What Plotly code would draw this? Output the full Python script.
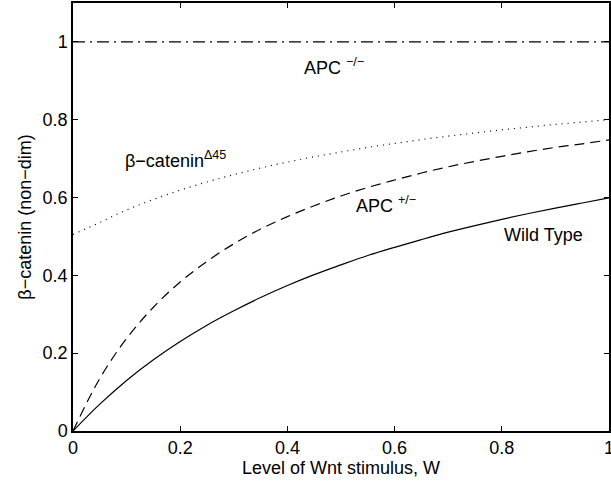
import plotly.graph_objects as go

W = [0, 0.05, 0.1, 0.15, 0.2, 0.25, 0.3, 0.35, 0.4, 0.45, 0.5,
     0.55, 0.6, 0.65, 0.7, 0.75, 0.8, 0.85, 0.9, 0.95, 1.0]

wild_type = [0, 0.069, 0.130, 0.183, 0.230, 0.272, 0.309, 0.343, 0.374, 0.402, 0.427,
             0.451, 0.472, 0.492, 0.511, 0.528, 0.544, 0.559, 0.573, 0.586, 0.599]
apc_het = [0, 0.135, 0.238, 0.318, 0.383, 0.436, 0.481, 0.519, 0.551, 0.579, 0.604,
           0.626, 0.645, 0.663, 0.679, 0.693, 0.706, 0.718, 0.729, 0.738, 0.748]
bcat_d45 = [0.505, 0.536, 0.568, 0.595, 0.619, 0.640, 0.659, 0.676, 0.691, 0.705, 0.717,
            0.729, 0.739, 0.749, 0.758, 0.766, 0.774, 0.781, 0.788, 0.794, 0.800]
apc_hom = [1.0] * len(W)

tick_vals = [0, 0.2, 0.4, 0.6, 0.8, 1]
tick_text = ["0", "0.2", "0.4", "0.6", "0.8", "1"]

FONT = "Liberation Sans, Arial, Helvetica, sans-serif"
FS = 18

fig = go.Figure()
fig.add_trace(go.Scatter(x=W, y=wild_type, mode="lines", line_shape="spline",
                         line=dict(color="black", width=1.2), name="Wild Type"))
fig.add_trace(go.Scatter(x=W, y=apc_het, mode="lines", line_shape="spline",
                         line=dict(color="black", width=1.2, dash="10px,6px"), name="APC +/-"))
fig.add_trace(go.Scatter(x=W, y=bcat_d45, mode="lines", line_shape="spline",
                         line=dict(color="black", width=1.2, dash="1px,5px"), name="b-catenin d45"))
fig.add_trace(go.Scatter(x=W, y=apc_hom, mode="lines",
                         line=dict(color="black", width=1.2, dash="12px,5px,2px,5px"), name="APC -/-"))

annots = [
    dict(x=0.428, y=0.937, text="APC <sup>−/−</sup>"),
    dict(x=0.093, y=0.697, text="β−catenin<sup>Δ45</sup>"),
    dict(x=0.525, y=0.581, text="APC <sup>+/−</sup>"),
    dict(x=0.80, y=0.504, text="Wild Type"),
]
for a in annots:
    fig.add_annotation(x=a["x"], y=a["y"], text=a["text"], showarrow=False,
                       xanchor="left", yanchor="middle", xref="x", yref="y",
                       font=dict(family=FONT, size=FS, color="black"))

axis_common = dict(showgrid=False, zeroline=False, showline=True, linecolor="black",
                   linewidth=1.5, mirror="ticks", ticks="inside", ticklen=5,
                   tickwidth=1, tickcolor="black", ticklabeloverflow="allow",
                   tickfont=dict(family=FONT, size=FS, color="black"))

fig.update_layout(
    width=611, height=486,
    margin=dict(l=73, r=2, t=3, b=55),
    paper_bgcolor="white", plot_bgcolor="white",
    showlegend=False,
    font=dict(family=FONT, size=FS, color="black"),
    xaxis=dict(range=[0, 1], tickvals=tick_vals, ticktext=tick_text,
               title=dict(text="Level of Wnt stimulus, W", standoff=2,
                          font=dict(family=FONT, size=FS)),
               automargin=False, **axis_common),
    yaxis=dict(range=[0, 1.1], tickvals=tick_vals, ticktext=tick_text,
               title=dict(text="β−catenin (non−dim)", standoff=6,
                          font=dict(family=FONT, size=FS)),
               automargin=False, **axis_common),
)

fig.write_html("out.html")
